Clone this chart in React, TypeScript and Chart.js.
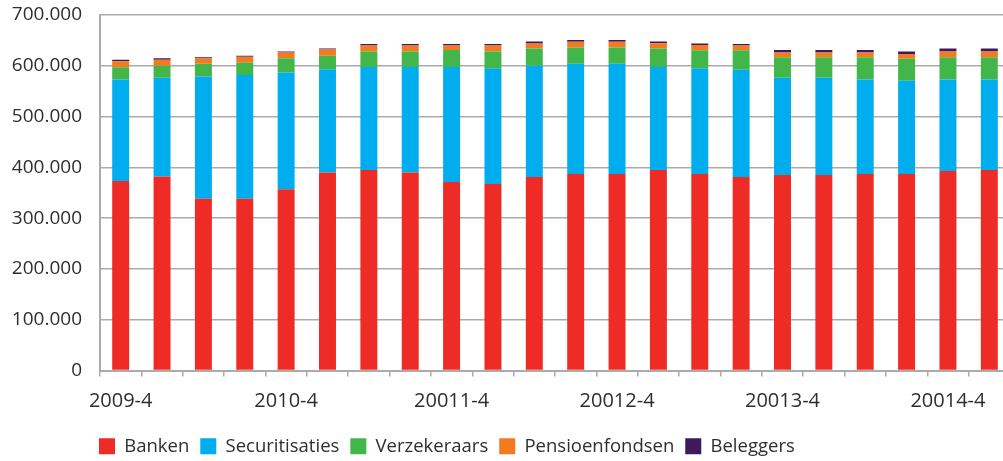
import React, { useEffect, useRef } from "react";
import { Chart, registerables } from "chart.js";

Chart.register(...registerables);

// Quarters (labels as printed in the source chart)
const quarters = [
  "2009-4", "2010-1", "2010-2", "2010-3", "2010-4",
  "20011-1", "20011-2", "20011-3", "20011-4",
  "20012-1", "20012-2", "20012-3", "20012-4",
  "20013-1", "20013-2", "20013-3", "20013-4",
  "20014-1", "20014-2", "20014-3", "20014-4",
  "20015-1",
];

// Labels shown on the x axis
const shownTicks = ["2009-4", "2010-4", "20011-4", "20012-4", "20013-4", "20014-4"];

const banken = [373000, 382000, 338000, 338000, 357000, 390000, 395000, 390000, 371000, 367000, 381000, 387000, 387000, 395000, 387000, 381000, 385000, 385000, 387000, 387000, 393000, 395000];
const securitisaties = [200000, 194500, 241000, 244000, 230000, 203000, 202500, 207500, 226500, 228000, 219000, 217000, 217000, 202500, 208000, 211000, 191500, 191500, 186000, 183500, 180000, 178000];
const verzekeraars = [24000, 23500, 25000, 24000, 28000, 27000, 30500, 30500, 33500, 33000, 34000, 32000, 32000, 36500, 35500, 38500, 40500, 40500, 44000, 43500, 44000, 44000];
const pensioenfondsen = [12000, 12000, 11000, 12000, 11000, 12000, 12000, 12000, 9000, 12000, 10000, 11500, 11500, 10500, 10500, 9500, 9000, 9000, 9000, 9000, 11000, 11000];
const beleggers = [3000, 3000, 2000, 2000, 2000, 2000, 3000, 3000, 3000, 3000, 4000, 3500, 3500, 3500, 3000, 3000, 5000, 5000, 5000, 5000, 6000, 6000];

const yTicks = [0, 100000, 200000, 300000, 400000, 500000, 600000, 700000];

const seriesNames = ["Banken", "Securitisaties", "Verzekeraars", "Pensioenfondsen", "Beleggers"];
const seriesColors = ["#ee2b24", "#00adee", "#43b649", "#f47a20", "#3c1a5b"];

const FONT = "'Open Sans', 'Noto Sans', sans-serif";
const TEXT = "#2e2e2e";
const GRID = "#ababab";

const LEGEND_X = 99;
const LEGEND_BOX_TOP = 438;

const fmt = (v: number) => String(v).replace(/\B(?=(\d{3})+(?!\d))/g, ".");

const legendPlacer = {
  id: "legendPlacer",
  afterLayout(chart: any) {
    const lg = chart.legend;
    if (!lg) return;
    const P = lg.options.labels.padding;
    const dx = LEGEND_X - (lg.left + P);
    lg.left += dx;
    lg.right += dx;
    const targetTop = LEGEND_BOX_TOP - P - 1;
    const dy = targetTop - lg.top;
    lg.top += dy;
    lg.bottom += dy;
  },
};

export default function App() {
  const ref = useRef<HTMLCanvasElement | null>(null);

  useEffect(() => {
    if (!ref.current) return;
    const values = [banken, securitisaties, verzekeraars, pensioenfondsen, beleggers];
    const chart = new Chart(ref.current, {
      type: "bar",
      data: {
        labels: quarters,
        datasets: seriesNames.map((name, i) => ({
          label: name,
          data: values[i],
          backgroundColor: seriesColors[i],
          borderWidth: 0,
          categoryPercentage: 1,
          barPercentage: 0.41,
        })),
      },
      plugins: [legendPlacer],
      options: {
        animation: false,
        responsive: true,
        maintainAspectRatio: false,
        layout: { padding: { top: 15, right: 0, bottom: 8, left: 0 } },
        plugins: {
          tooltip: { enabled: false },
          legend: {
            position: "bottom",
            align: "start",
            labels: {
              boxWidth: 16,
              boxHeight: 16,
              padding: 11,
              color: TEXT,
              font: { family: FONT, size: 18.5 },
            },
          },
        },
        scales: {
          x: {
            stacked: true,
            offset: true,
            afterFit: (s: any) => {
              s.height -= 13;
            },
            grid: {
              display: true,
              offset: true,
              drawOnChartArea: false,
              drawTicks: true,
              tickLength: 6,
              color: GRID,
              lineWidth: 1.5,
            },
            border: { display: true, color: GRID, width: 2 },
            ticks: {
              autoSkip: false,
              maxRotation: 0,
              minRotation: 0,
              padding: 13,
              color: TEXT,
              font: { family: FONT, size: 20 },
              callback: (_v: any, i: number) => (shownTicks.includes(quarters[i]) ? quarters[i] : ""),
            },
          },
          y: {
            stacked: true,
            min: 0,
            max: 700000,
            afterFit: (s: any) => {
              s.width = 100;
            },
            afterBuildTicks: (s: any) => {
              s.ticks = yTicks.map((v) => ({ value: v }));
            },
            grid: {
              color: GRID,
              lineWidth: 1.5,
              drawTicks: true,
              tickLength: 18,
              tickColor: "rgba(0,0,0,0)",
            },
            border: { display: true, color: GRID, width: 2 },
            ticks: {
              padding: 0,
              color: TEXT,
              font: { family: FONT, size: 19 },
              callback: (v: any) => fmt(Number(v)),
            },
          },
        },
      },
    });
    return () => chart.destroy();
  }, []);

  return (
    <div style={{ position: "fixed", left: 0, top: 0, width: 1010, height: 461, background: "#fff" }}>
      <canvas ref={ref} />
    </div>
  );
}
